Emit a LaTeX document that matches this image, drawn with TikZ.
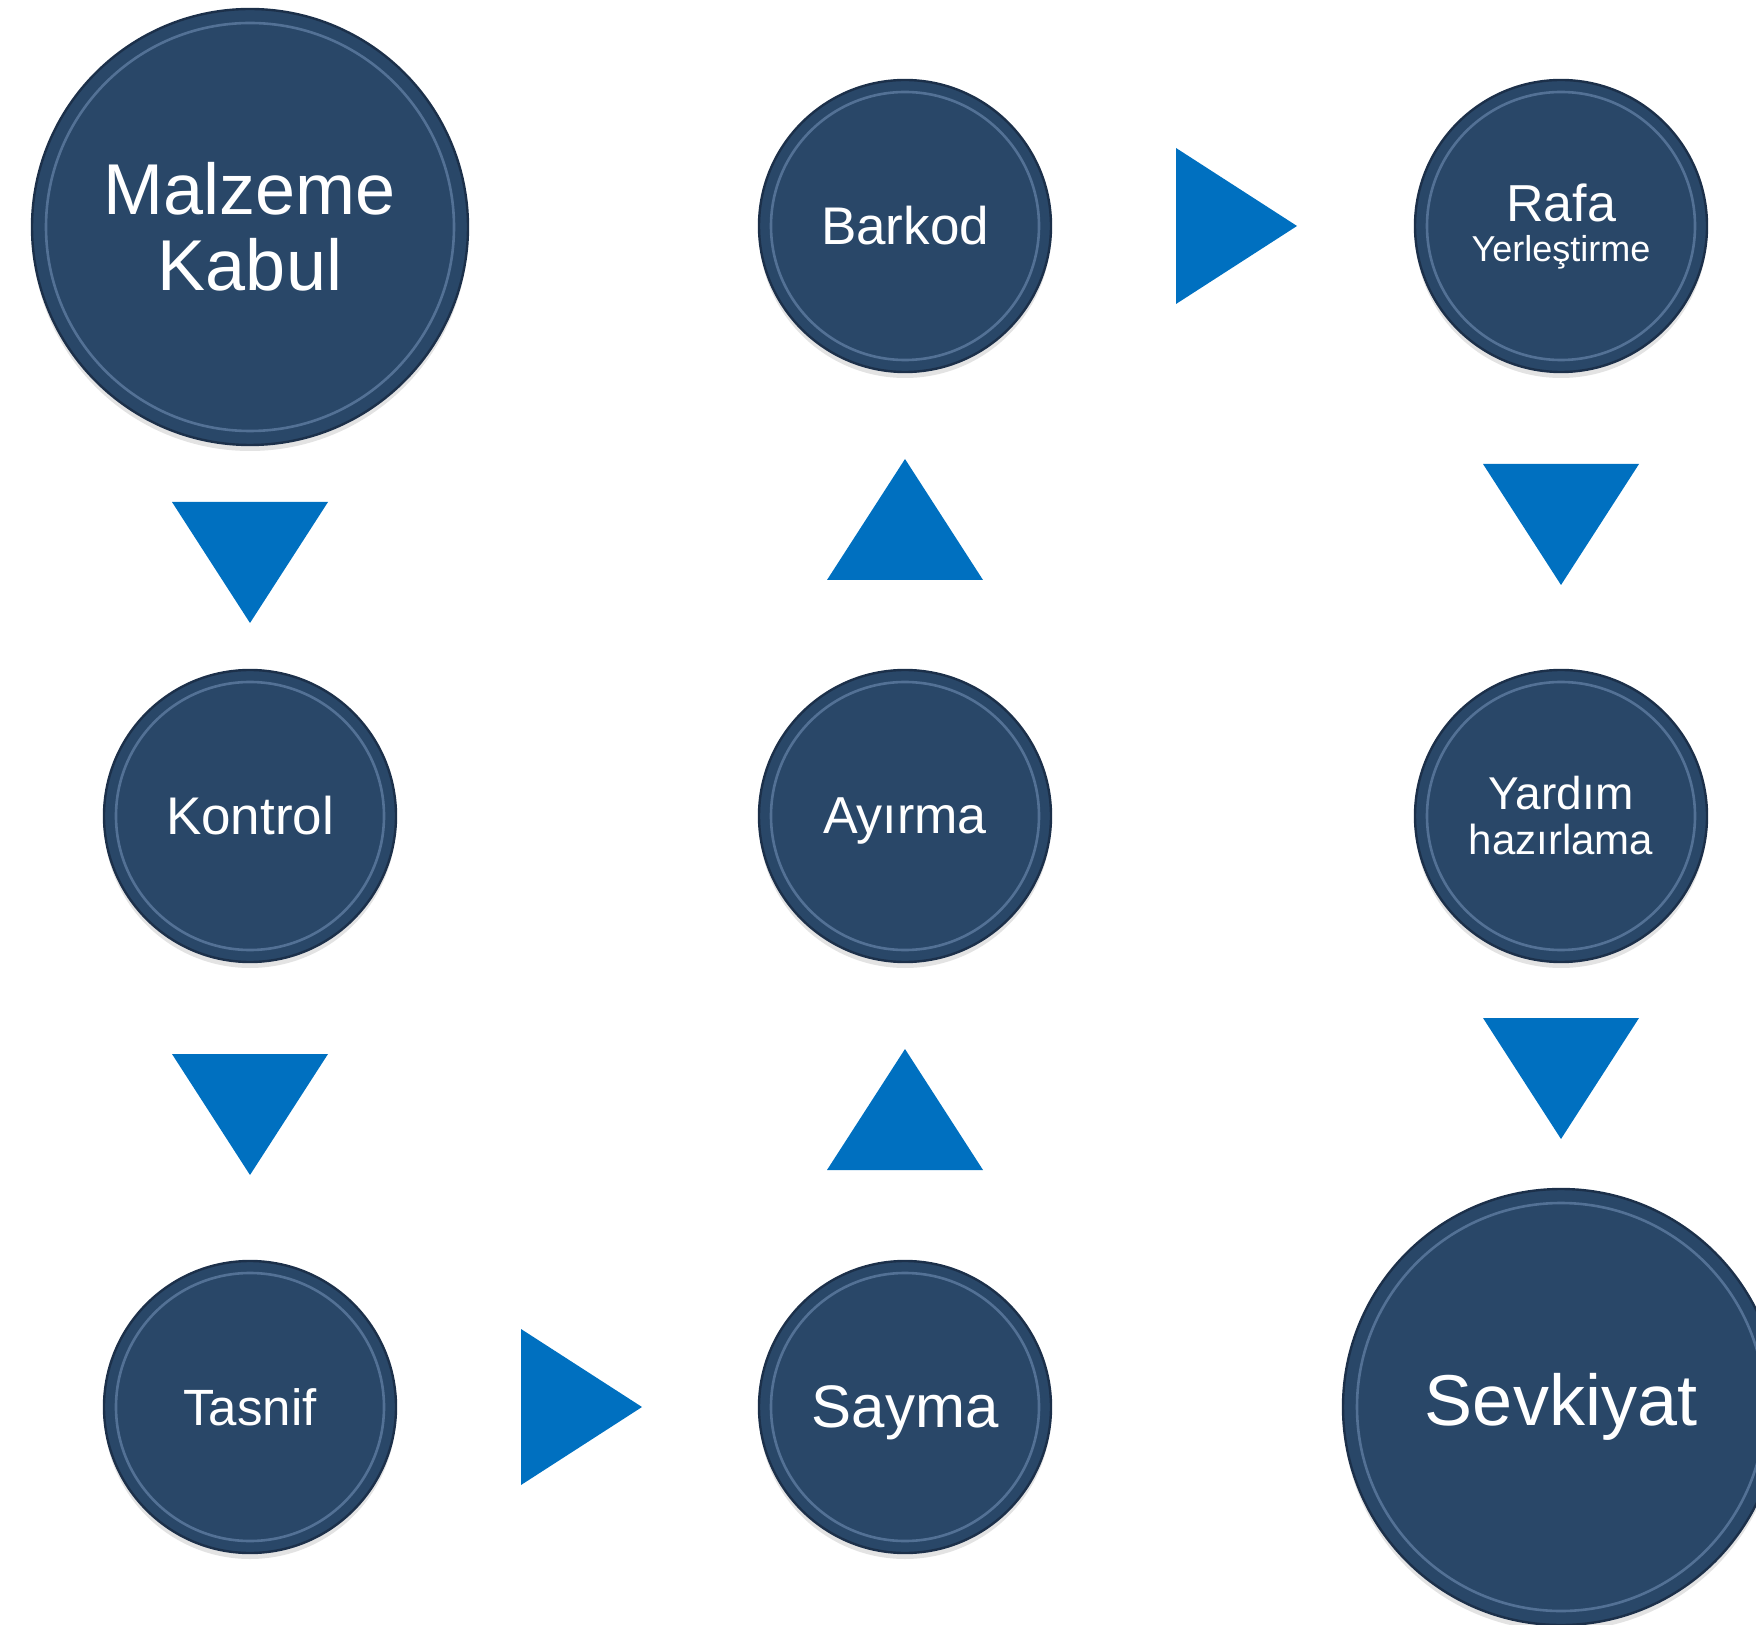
\documentclass[tikz,border=0pt]{standalone}
\usepackage{fontspec}
\setmainfont{Liberation Sans}
\usetikzlibrary{shadows}
\definecolor{discfill}{RGB}{41,71,104}
\definecolor{discrim}{RGB}{28,48,74}
\definecolor{discglow}{RGB}{125,155,195}
\definecolor{trifill}{RGB}{0,112,192}
\begin{document}
\begin{tikzpicture}[x=0.5pt,y=-0.5pt,
  disc/.style={circle, fill=discfill, draw=discrim, line width=1.2pt, text=white,
    align=center, inner sep=0pt, minimum size=#1,
    drop shadow={opacity=0.22, shadow xshift=0pt, shadow yshift=-3pt}},
  glowring/.style={draw=discglow, line width=1.3pt, opacity=0.5},
  tdown/.pic={\fill[trifill] (-78,0) -- (78,0) -- (0,121) -- cycle;},
  tup/.pic={\fill[trifill] (-78,0) -- (78,0) -- (0,-121) -- cycle;},
  tright/.pic={\fill[trifill] (0,-78) -- (0,78) -- (121,0) -- cycle;}
]
\useasboundingbox (0,0) rectangle (1756,1625);
\begin{scope}
\clip (0,0) rectangle (1756,1625);
% discs
\node[disc=218pt, font=\fontsize{36}{38}\selectfont] (mk) at (250,227) {Malzeme\\Kabul};
\node[disc=146pt, font=\fontsize{26.5}{30}\selectfont] (bk) at (905,226) {Barkod};
\node[disc=146pt, font=\fontsize{26}{20}\selectfont, text depth=3pt] (ry) at (1561,226) {Rafa\\\fontsize{18}{20}\selectfont Yerleştirme};
\node[disc=146pt, font=\fontsize{26.5}{30}\selectfont] (ko) at (250,816) {Kontrol};
\node[disc=146pt, font=\fontsize{26}{30}\selectfont, text depth=0pt] (ay) at (905,816) {Ayırma};
\node[disc=146pt, font=\fontsize{23}{22.5}\selectfont] (yh) at (1561,816) {Yardım\\\fontsize{21}{22.5}\selectfont hazırlama};
\node[disc=146pt, font=\fontsize{25.5}{30}\selectfont] (ts) at (250,1407) {Tasnif};
\node[disc=146pt, font=\fontsize{30}{34}\selectfont, text depth=0pt] (sy) at (905,1407) {Sayma};
\node[disc=218pt, font=\fontsize{36}{43}\selectfont] (sv) at (1561,1407) {Sevkiyat};
% bevel rings
\foreach \n in {bk,ry,ko,ay,yh,ts,sy}{\draw[glowring] (\n.center) circle[radius=67pt];}
\foreach \n in {mk,sv}{\draw[glowring] (\n.center) circle[radius=102pt];}
% triangles
\pic at (250,502) {tdown};
\pic at (250,1054) {tdown};
\pic at (521,1407) {tright};
\pic at (905,1170) {tup};
\pic at (905,580) {tup};
\pic at (1176,226) {tright};
\pic at (1561,464) {tdown};
\pic at (1561,1018) {tdown};
\end{scope}
\end{tikzpicture}
\end{document}
